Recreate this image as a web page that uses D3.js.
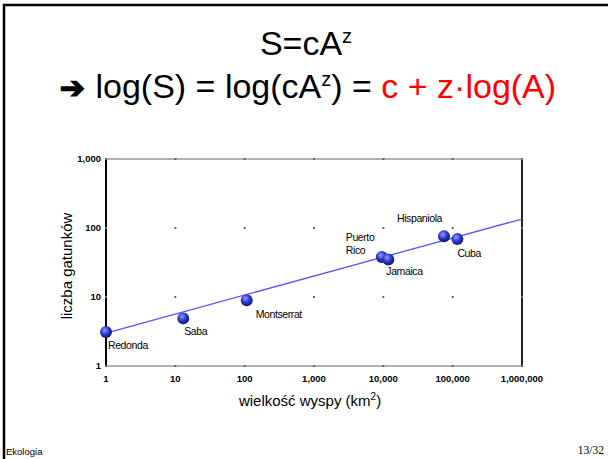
<!DOCTYPE html>
<html>
<head>
<meta charset="utf-8">
<script src="https://d3js.org/d3.v7.min.js"></script>
<style>
  body { margin: 0; background: #fff; }
  svg { display: block; font-family: "Liberation Sans", Arial, sans-serif; }
</style>
</head>
<body>
<svg width="608" height="459"></svg>
<script>
// island data
var islands = ["Redonda", "Saba", "Montserrat", "Puerto Rico", "Jamaica", "Hispaniola", "Cuba"];
var area = [1, 13, 107, 9500, 11800, 75000, 117000];
var species = [3.1, 4.9, 9, 38, 35, 76, 69];
var fitX = [1, 1000000];
var fitY = [3.0, 135];
var xTicks = [1, 10, 100, 1000, 10000, 100000, 1000000];
var yTicks = [1, 10, 100, 1000];

var svg = d3.select("svg");

// slide frame
svg.append("line").attr("x1", 3).attr("x2", 608).attr("y1", 5).attr("y2", 5)
    .attr("stroke", "#000").attr("stroke-width", 2.5);
svg.append("line").attr("x1", 4).attr("x2", 4).attr("y1", 4).attr("y2", 459)
    .attr("stroke", "#000").attr("stroke-width", 2.5);

// title
svg.append("text").attr("x", 306).attr("y", 55).attr("text-anchor", "middle")
    .attr("font-size", 34).attr("fill", "#000")
    .html('S=cA<tspan dy="-12" font-size="20">z</tspan>');

var t2 = svg.append("text").attr("x", 308).attr("y", 98).attr("text-anchor", "middle")
    .attr("font-size", 34).attr("fill", "#000");
t2.append("tspan").attr("font-family", "DejaVu Sans").attr("font-weight", "bold").attr("font-size", 30)
    .attr("stroke", "#000").attr("stroke-width", 1.4).text("\u2794 ");
t2.append("tspan").text("log(S) = log(cA");
t2.append("tspan").attr("dy", -12).attr("font-size", 20).text("z");
t2.append("tspan").attr("dy", 12).text(") = ");
t2.append("tspan").attr("fill", "#ff0000").text("c + z\u00b7log(A)");

var x = d3.scaleLog().domain([1, 1000000]).range([106, 522]);
var y = d3.scaleLog().domain([1, 1000]).range([366, 159]);

// frame of plot
svg.append("line").attr("x1", 106).attr("x2", 522).attr("y1", y(1000)).attr("y2", y(1000))
    .attr("stroke", "#666").attr("stroke-width", 1);
svg.append("line").attr("x1", 106).attr("x2", 522).attr("y1", y(1)).attr("y2", y(1))
    .attr("stroke", "#666").attr("stroke-width", 1);
svg.append("line").attr("x1", x(1)).attr("x2", x(1)).attr("y1", 159).attr("y2", 367)
    .attr("stroke", "#000").attr("stroke-width", 2);
svg.append("line").attr("x1", x(1000000)).attr("x2", x(1000000)).attr("y1", 159).attr("y2", 367)
    .attr("stroke", "#222").attr("stroke-width", 2);

// grid dots
xTicks.forEach(function(a) {
  yTicks.forEach(function(b) {
    svg.append("rect").attr("x", x(a) - 1).attr("y", y(b) - 1).attr("width", 2).attr("height", 2)
        .attr("fill", "#666");
  });
});

// tick labels
svg.append("g").selectAll("text").data(yTicks).enter().append("text")
    .attr("x", 101).attr("y", function(d) { return y(d) + 3; })
    .attr("text-anchor", "end").attr("font-size", 9.5).attr("font-weight", "bold")
    .text(function(d) { return d3.format(",")(d); });
svg.append("g").selectAll("text").data(xTicks).enter().append("text")
    .attr("x", function(d) { return x(d); }).attr("y", 382)
    .attr("text-anchor", "middle").attr("font-size", 9.5).attr("font-weight", "bold")
    .text(function(d) { return d3.format(",")(d); });

// axis titles
svg.append("text").attr("transform", "translate(72,266) rotate(-90)")
    .attr("text-anchor", "middle").attr("font-size", 15).text("liczba gatunków");
svg.append("text").attr("x", 310).attr("y", 406).attr("text-anchor", "middle")
    .attr("font-size", 15)
    .html('wielkość wyspy (km<tspan dy="-6" font-size="10">2</tspan><tspan dy="6">)</tspan>');

// fit line
svg.append("line")
    .attr("x1", x(fitX[0])).attr("y1", y(fitY[0]))
    .attr("x2", x(fitX[1])).attr("y2", y(fitY[1]))
    .attr("stroke", "#5555ff").attr("stroke-width", 1.3);

// points
var grad = svg.append("defs").append("radialGradient").attr("id", "ball")
    .attr("cx", "40%").attr("cy", "35%").attr("r", "65%");
grad.append("stop").attr("offset", "0%").attr("stop-color", "#8f9cff");
grad.append("stop").attr("offset", "55%").attr("stop-color", "#2b35c8");
grad.append("stop").attr("offset", "100%").attr("stop-color", "#101878");

svg.append("g").selectAll("circle").data(area).enter().append("circle")
    .attr("cx", function(d) { return x(d); })
    .attr("cy", function(d, i) { return y(species[i]); })
    .attr("r", 6)
    .attr("fill", "url(#ball)");

// point labels
var labelPos = [
  [2, 17], [1, 17], [9, 17.5], [-36, -16], [-2, 16], [-47, -14], [0, 18]
];
islands.forEach(function(name, i) {
  var lx = x(area[i]) + labelPos[i][0], ly = y(species[i]) + labelPos[i][1];
  var t = svg.append("text").attr("x", lx).attr("y", ly).attr("font-size", 10.5)
      .attr("letter-spacing", -0.4);
  if (name === "Puerto Rico") {
    t.append("tspan").text("Puerto");
    t.append("tspan").attr("x", lx).attr("dy", 13.5).text("Rico");
  } else {
    t.text(name);
  }
});

// footer
svg.append("text").attr("x", 6).attr("y", 455).attr("font-size", 9.5).text("Ekologia");
svg.append("text").attr("x", 604).attr("y", 454).attr("text-anchor", "end")
    .attr("font-family", "Liberation Serif").attr("font-size", 11.5).text("13/32");
</script>
</body>
</html>
